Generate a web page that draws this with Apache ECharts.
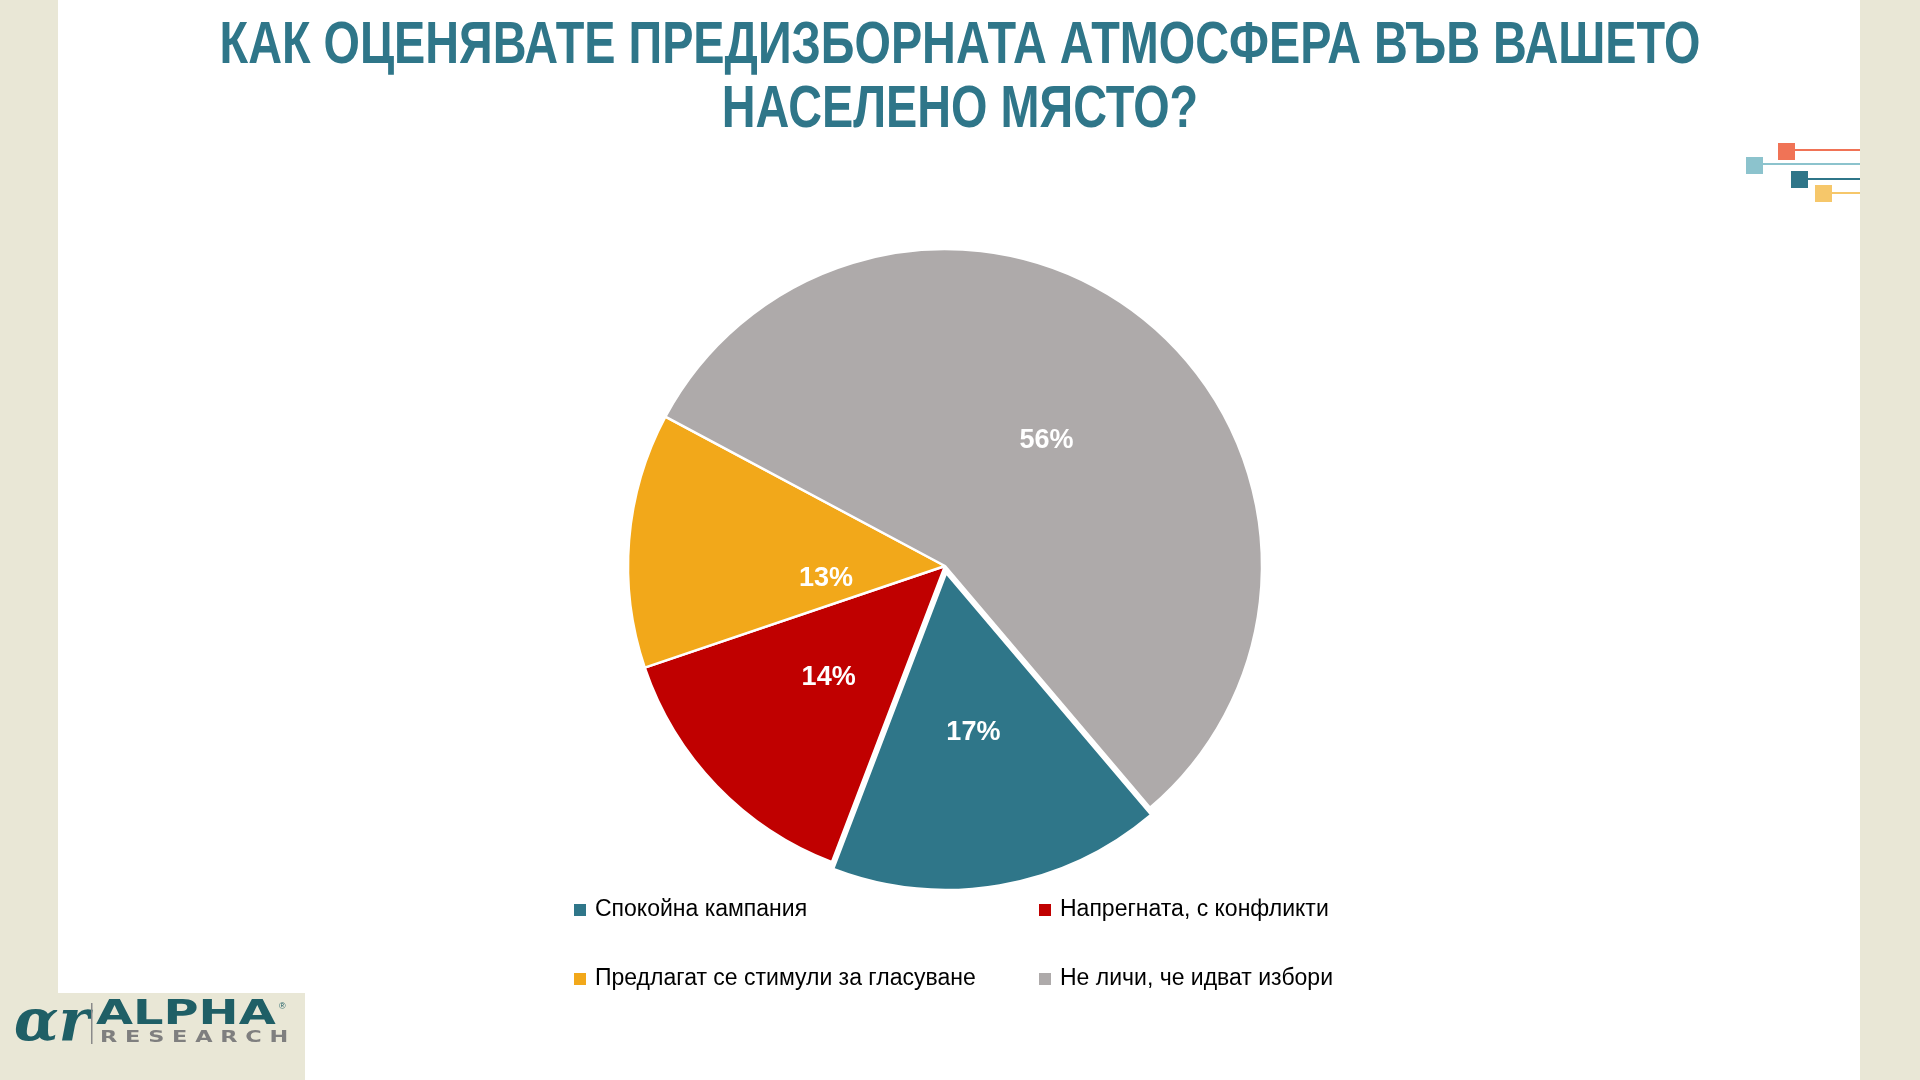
<!DOCTYPE html>
<html>
<head>
<meta charset="utf-8">
<style>
html,body{margin:0;padding:0;background:#E9E7D6;}
#chart{width:1920px;height:1080px;}
</style>
<script src="https://cdn.jsdelivr.net/npm/echarts@6/dist/echarts.min.js"></script>
</head>
<body>
<div id="chart"></div>
<script>
const titleLines = ['КАК ОЦЕНЯВАТЕ ПРЕДИЗБОРНАТА АТМОСФЕРА ВЪВ ВАШЕТО', 'НАСЕЛЕНО МЯСТО?'];
const categories = ['Спокойна кампания', 'Напрегната, с конфликти', 'Предлагат се стимули за гласуване', 'Не личи, че идват избори'];
const values = [17, 14, 13, 56];
const colors = ['#2F7689', '#C00000', '#F2A81A', '#AEAAAA'];

const SANS = "'Liberation Sans', Arial, sans-serif";
const chart = echarts.init(document.getElementById('chart'), null, {renderer: 'canvas'});

const pieData = categories.map((c, i) => ({
  name: c,
  value: values[i],
  selected: i === 0,
  itemStyle: {color: colors[i]}
}));

const deco = [
  {sq: [1778, 143], c: '#F07356', ly: 150},
  {sq: [1746, 157], c: '#8CC3CD', ly: 164},
  {sq: [1791, 171], c: '#2F7689', ly: 179},
  {sq: [1815, 185], c: '#F6C76A', ly: 193}
];
const decoGraphics = [];
deco.forEach(d => {
  decoGraphics.push({type: 'rect', shape: {x: d.sq[0] + 17, y: d.ly - 1, width: 1860 - d.sq[0] - 17, height: 2}, style: {fill: d.c}, z: 1});
  decoGraphics.push({type: 'rect', shape: {x: d.sq[0], y: d.sq[1], width: 17, height: 17}, style: {fill: d.c}, z: 1});
});

const titleGraphics = titleLines.map((t, i) => ({
  type: 'text', x: 960, y: 46 + i * 64, scaleX: 0.78, z: 3,
  style: {text: t, font: "bold 60px 'Liberation Sans', Arial, sans-serif", fill: '#2F7689', textAlign: 'center', textVerticalAlign: 'middle'}
}));

const legendBase = {
  orient: 'vertical',
  top: 896,
  padding: 0,
  itemWidth: 14,
  itemHeight: 14,
  itemGap: 41,
  icon: 'rect',
  textStyle: {fontFamily: SANS, fontSize: 23, color: '#000000', lineHeight: 28, padding: [0, 0, 0, 3]},
  selectedMode: false
};

chart.setOption({
  animation: false,
  backgroundColor: '#E9E7D6',
  graphic: [
    {type: 'rect', shape: {x: 58, y: 0, width: 1802, height: 1080}, style: {fill: '#FFFFFF'}, z: 0},
    {type: 'rect', shape: {x: 0, y: 993, width: 305, height: 87}, style: {fill: '#E9E7D6'}, z: 0},
    ...decoGraphics,
    ...titleGraphics,
    {type: 'text', x: 14, y: 996, style: {text: 'αr', font: 'italic bold 58px "DejaVu Serif", serif', fill: '#1F5F66'}, z: 2},
    {type: 'rect', shape: {x: 91, y: 1003, width: 1.5, height: 41}, style: {fill: '#8A8A8A'}, z: 2},
    {type: 'text', x: 96, y: 1015, scaleX: 1.45, style: {text: 'ALPHA', font: '900 33px "DejaVu Sans", sans-serif', fill: '#1F5F66', textVerticalAlign: 'middle'}, z: 2},
    {type: 'text', x: 279, y: 1002, style: {text: '®', font: '9px sans-serif', fill: '#1F5F66'}, z: 2},
    {type: 'text', x: 100, y: 1038, scaleX: 1.4, style: {text: 'R E S E A R C H', font: 'bold 16px "DejaVu Sans", sans-serif', fill: '#7F7F7F', textVerticalAlign: 'middle'}, z: 2}
  ],
  legend: [
    Object.assign({}, legendBase, {data: [categories[0], categories[2]], left: 572}),
    Object.assign({}, legendBase, {data: [categories[1], categories[3]], left: 1037})
  ],
  series: [{
    type: 'pie',
    center: [945, 566],
    radius: [0, 317],
    startAngle: -49.7,
    clockwise: true,
    selectedMode: 'single',
    selectedOffset: 7,
    data: pieData,
    itemStyle: {borderColor: '#FFFFFF', borderWidth: 2.5},
    label: {
      show: true,
      position: 'inside',
      formatter: '{c}%',
      fontFamily: SANS,
      fontWeight: 'bold',
      fontSize: 27,
      color: '#FFFFFF'
    },
    labelLayout: function (p) {
      if (p.dataIndex === 2) return {dx: 42, dy: 26};
      return {};
    },
    labelLine: {show: false},
    emphasis: {disabled: true},
    select: {itemStyle: {borderColor: '#FFFFFF', borderWidth: 2.5}}
  }]
});
</script>
</body>
</html>
